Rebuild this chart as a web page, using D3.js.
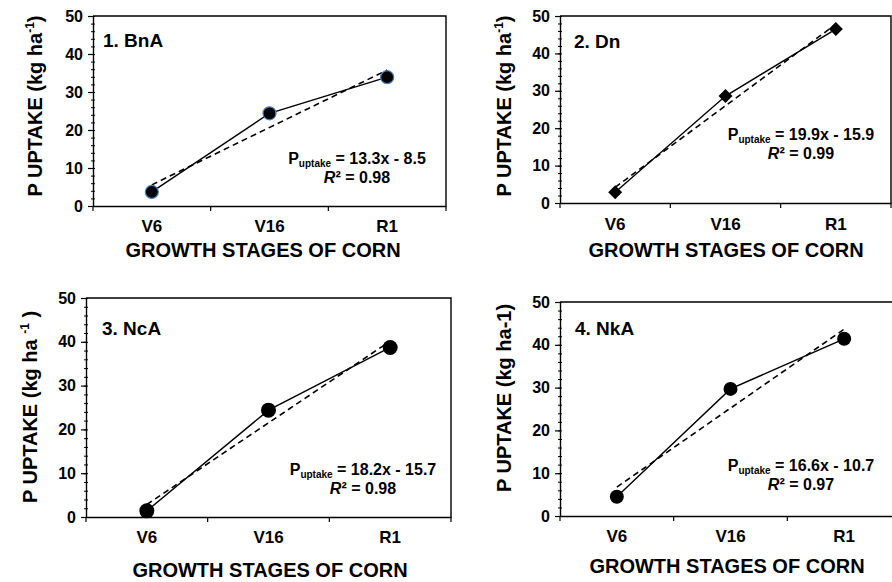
<!DOCTYPE html>
<html>
<head>
<meta charset="utf-8">
<script src="https://cdn.jsdelivr.net/npm/d3@7"></script>
<style>
  body { margin: 0; background: #fff; }
  svg { display: block; }
  text { font-family: "Liberation Sans", Arial, sans-serif; font-weight: bold; fill: #000; }
</style>
</head>
<body>
<svg id="chart" width="892" height="582"></svg>
<script>
// Growth stages and P uptake (kg/ha) per soil
const stages = ["V6", "V16", "R1"];
const soils = ["1. BnA", "2. Dn", "3. NcA", "4. NkA"];
const uptakeBnA = [3.7, 24.4, 33.9];
const uptakeDn = [2.9, 28.6, 46.5];
const uptakeNcA = [1.4, 24.4, 38.7];
const uptakeNkA = [4.5, 29.7, 41.4];
const slopes = ["13.3", "19.9", "18.2", "16.6"];
const intercepts = ["8.5", "15.9", "15.7", "10.7"];
const rSquared = ["0.98", "0.99", "0.98", "0.97"];
const yTicks = [0, 10, 20, 30, 40, 50];
const yMinorTicks = d3.range(0, 51, 2);
const xTitle = "GROWTH STAGES OF CORN";

const series = [uptakeBnA, uptakeDn, uptakeNcA, uptakeNkA];

// panel geometry and text placement
const panels = [
  { x0: 93, x1: 446, yTop: 16, yBot: 206, marker: "circleBlue", r: 6.5,
    yTitle: { x: 42, y: 106, parts: ["P UPTAKE (kg ha", "-1", ")"] },
    label: { x: 103, y: 47 }, eq: { x: 357, y: 164, gap: 19 },
    xLabY: 232, xTitle: { x: 263, y: 257 } },
  { x0: 560, x1: 891, yTop: 16, yBot: 203, marker: "diamond", r: 7,
    yTitle: { x: 511, y: 106, parts: ["P UPTAKE (kg ha", "-1", ")"] },
    label: { x: 574, y: 48 }, eq: { x: 801, y: 140, gap: 19 },
    xLabY: 230, xTitle: { x: 726, y: 257 } },
  { x0: 86, x1: 451, yTop: 298, yBot: 517, marker: "circle", r: 7.5,
    yTitle: { x: 37, y: 407, parts: ["P UPTAKE (kg ha ", "-1", " )"] },
    label: { x: 102, y: 335 }, eq: { x: 363, y: 475, gap: 19 },
    xLabY: 543, xTitle: { x: 270, y: 577 } },
  { x0: 560, x1: 901, yTop: 302, yBot: 516, marker: "circle", r: 7,
    yTitle: { x: 511, y: 398, parts: ["P UPTAKE (kg ha-1)"] },
    label: { x: 575, y: 335 }, eq: { x: 801, y: 471, gap: 19 },
    xLabY: 542, xTitle: { x: 727, y: 573 } }
];

const svg = d3.select("#chart");

// least-squares line through the stage index (1, 2, 3)
function fitLine(vals) {
  const xs = vals.map((_, i) => i + 1);
  const mx = d3.mean(xs), my = d3.mean(vals);
  const b = d3.sum(xs, (x, i) => (x - mx) * (vals[i] - my)) / d3.sum(xs, x => (x - mx) ** 2);
  return { slope: b, icpt: my - b * mx };
}

panels.forEach((p, k) => {
  const vals = series[k];
  const g = svg.append("g");
  const x = d3.scaleBand().domain(stages).range([p.x0, p.x1]).padding(0);
  const y = d3.scaleLinear().domain([0, 50]).range([p.yBot, p.yTop]);
  const cx = s => x(s) + x.bandwidth() / 2;

  // frame: top and right border
  g.append("path")
    .attr("d", `M${p.x0},${p.yTop}H${p.x1}V${p.yBot}`)
    .attr("fill", "none").attr("stroke", "#000").attr("stroke-width", 1.4);

  // minor y ticks
  const minor = g.append("g").attr("transform", `translate(${p.x0},0)`)
    .call(d3.axisLeft(y).tickValues(yMinorTicks).tickSize(3).tickFormat(""));
  minor.select(".domain").remove();
  minor.selectAll(".tick line").attr("x2", 2).attr("x1", -2).attr("stroke-width", 1);

  // major y axis
  const ya = g.append("g").attr("transform", `translate(${p.x0},0)`)
    .call(d3.axisLeft(y).tickValues(yTicks).tickSize(5).tickPadding(5).tickSizeOuter(0));
  ya.select(".domain").attr("stroke-width", 1.4);
  ya.selectAll(".tick line").attr("stroke-width", 1.2);
  ya.selectAll(".tick text").attr("font-size", 16).attr("font-family", null).style("font-weight", "bold");

  // x axis with ticks at the stage boundaries
  const xa = g.append("g").attr("transform", `translate(0,${p.yBot})`)
    .call(d3.axisBottom(x).tickSize(0).tickPadding(0).tickSizeOuter(0));
  xa.select(".domain").attr("stroke-width", 1.4);
  xa.selectAll(".tick text").attr("y", null).attr("dy", null)
    .attr("transform", `translate(0,${p.xLabY - p.yBot})`)
    .attr("font-size", 17).attr("font-family", null).style("font-weight", "bold");
  const bounds = stages.map(s => x(s)).concat([p.x1]);
  g.selectAll(".bnd").data(bounds).join("line")
    .attr("x1", d => d).attr("x2", d => d)
    .attr("y1", p.yBot).attr("y2", p.yBot + 5)
    .attr("stroke", "#000").attr("stroke-width", 1.2);

  // fitted trend (dashed)
  const fit = fitLine(vals);
  const trend = stages.map((s, i) => [cx(s), y(fit.icpt + fit.slope * (i + 1))]);
  g.append("path").attr("d", d3.line()([trend[0], trend[2]]))
    .attr("fill", "none").attr("stroke", "#000").attr("stroke-width", 1.6)
    .attr("stroke-dasharray", "6,4");

  // measured series
  const pts = stages.map((s, i) => [cx(s), y(vals[i])]);
  g.append("path").attr("d", d3.line()(pts))
    .attr("fill", "none").attr("stroke", "#000").attr("stroke-width", 1.4);

  if (p.marker === "diamond") {
    g.selectAll(".mk").data(pts).join("path")
      .attr("d", d => `M${d[0]},${d[1] - p.r}L${d[0] + p.r},${d[1]}L${d[0]},${d[1] + p.r}L${d[0] - p.r},${d[1]}Z`)
      .attr("fill", "#000");
  } else {
    g.selectAll(".mk").data(pts).join("circle")
      .attr("cx", d => d[0]).attr("cy", d => d[1]).attr("r", p.r)
      .attr("fill", "#000")
      .attr("stroke", p.marker === "circleBlue" ? "#4a7ebb" : "none")
      .attr("stroke-width", 1.2);
  }

  // soil label
  g.append("text").attr("x", p.label.x).attr("y", p.label.y)
    .attr("font-size", 19).text(soils[k]);

  // regression equation
  const eq = g.append("text").attr("x", p.eq.x).attr("y", p.eq.y)
    .attr("text-anchor", "middle").attr("font-size", 16);
  eq.append("tspan").text("P");
  eq.append("tspan").attr("font-size", 10).attr("dy", 3).text("uptake");
  eq.append("tspan").attr("dy", -3).text(` = ${slopes[k]}x - ${intercepts[k]}`);
  const r2 = g.append("text").attr("x", p.eq.x).attr("y", p.eq.y + p.eq.gap)
    .attr("text-anchor", "middle").attr("font-size", 16);
  r2.append("tspan").attr("font-style", "italic").text("R");
  r2.append("tspan").text(`² = ${rSquared[k]}`);

  // y title
  const yt = g.append("text")
    .attr("transform", `translate(${p.yTitle.x},${p.yTitle.y}) rotate(-90)`)
    .attr("text-anchor", "middle").attr("font-size", 20);
  if (p.yTitle.parts.length === 1) {
    yt.text(p.yTitle.parts[0]);
  } else {
    yt.append("tspan").text(p.yTitle.parts[0]);
    yt.append("tspan").attr("font-size", 12).attr("dy", -8).text(p.yTitle.parts[1]);
    yt.append("tspan").attr("dy", 8).text(p.yTitle.parts[2]);
  }

  // x title
  g.append("text").attr("x", p.xTitle.x).attr("y", p.xTitle.y)
    .attr("text-anchor", "middle").attr("font-size", 20).text(xTitle);
});
</script>
</body>
</html>
